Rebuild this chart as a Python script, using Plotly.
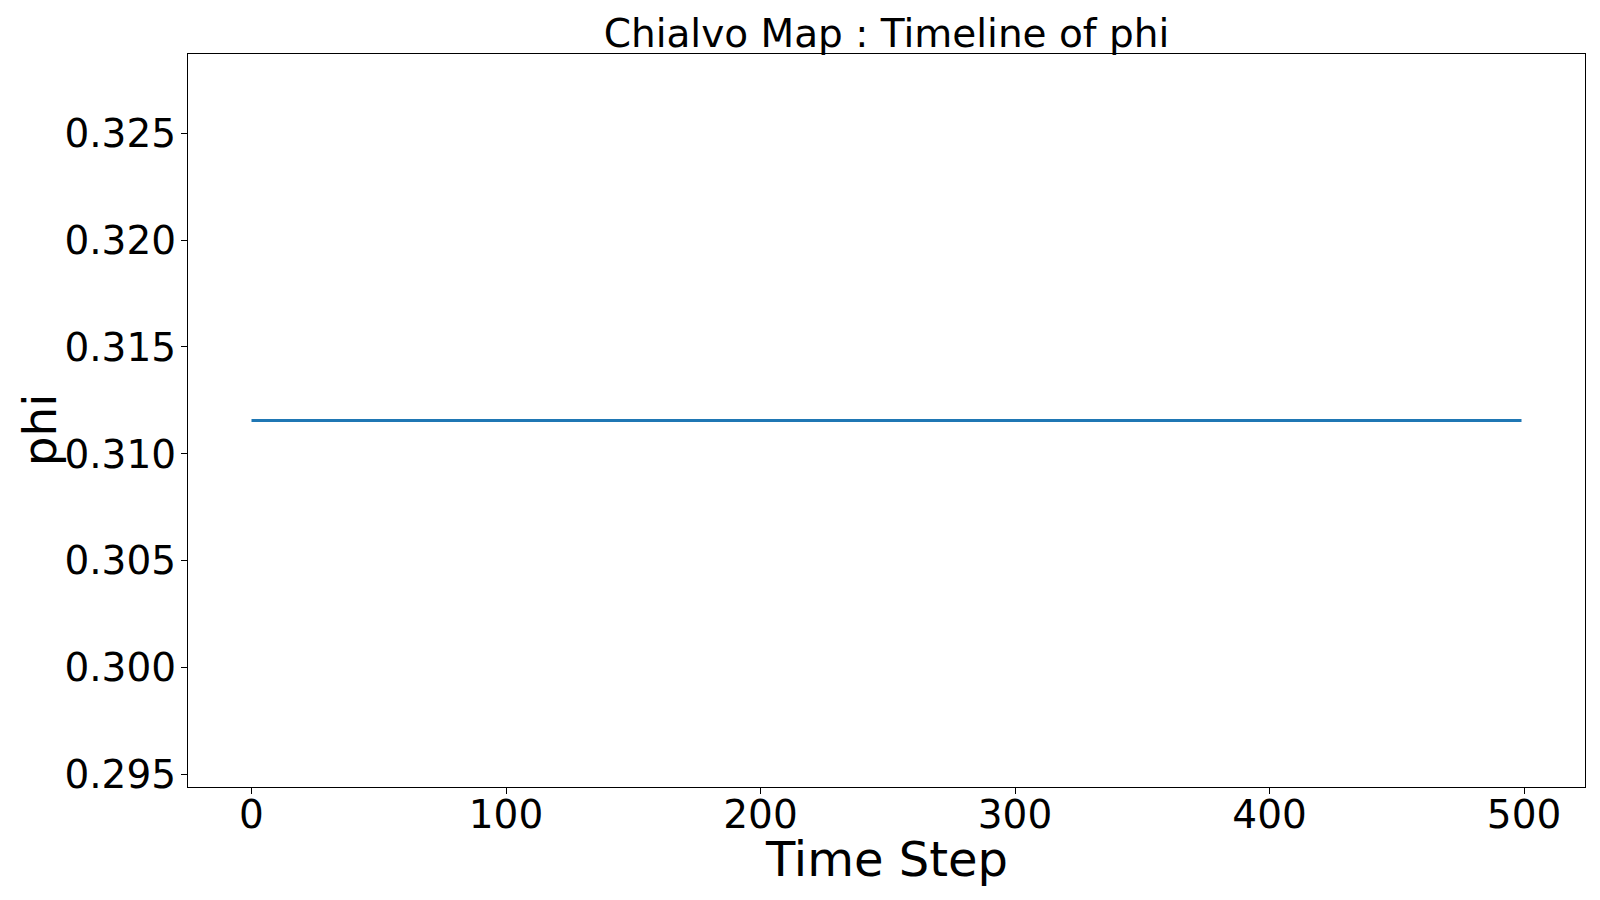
import plotly.graph_objects as go

# Chialvo map, phi over time (constant fixed point)
time_steps = list(range(500))
phi_value = 0.31156
phi = [phi_value] * len(time_steps)

x_ticks = [0, 100, 200, 300, 400, 500]
y_ticks = [0.295, 0.300, 0.305, 0.310, 0.315, 0.320, 0.325]

FONT = "DejaVu Sans"
L, R, T, B = 180, 23, 46, 121
W, H = 1600, 900

fig = go.Figure(go.Scatter(
    x=time_steps,
    y=phi,
    mode="lines",
    line=dict(color="#1f77b4", width=2.8),
    showlegend=False,
))

axis_style = dict(
    showgrid=False, zeroline=False,
    showline=True, linecolor="black", linewidth=1.3, mirror=True,
    ticks="outside", ticklen=6, tickwidth=1.2, tickcolor="black",
    tickfont=dict(family=FONT, size=39, color="black"),
)

fig.update_layout(
    width=W, height=H,
    paper_bgcolor="white", plot_bgcolor="white",
    margin=dict(l=L, r=R, t=T, b=B),
    title=dict(
        text="Chialvo Map : Timeline of phi",
        font=dict(family=FONT, size=39, color="black"),
        x=(L + W - R) / 2 / W, xanchor="center",
        y=1 - 25 / H, yanchor="middle",
    ),
    xaxis=dict(
        range=[-24.95, 523.95],
        tickvals=x_ticks,
        ticktext=[str(v) for v in x_ticks],
        ticklabelstandoff=-13,
        **axis_style,
    ),
    yaxis=dict(
        range=[0.29442, 0.32870],
        tickvals=y_ticks,
        ticktext=["%.3f" % v for v in y_ticks],
        ticklabelstandoff=-3,
        **axis_style,
    ),
)

fig.add_annotation(
    text="Time Step", xref="paper", yref="paper",
    x=0.5, y=-0.0982, xanchor="center", yanchor="middle",
    showarrow=False, font=dict(family=FONT, size=48, color="black"),
)
fig.add_annotation(
    text="phi", xref="paper", yref="paper",
    x=-0.1065, y=0.487, xanchor="center", yanchor="middle",
    textangle=-90, showarrow=False,
    font=dict(family=FONT, size=47, color="black"),
)

fig.write_html("out.html")
